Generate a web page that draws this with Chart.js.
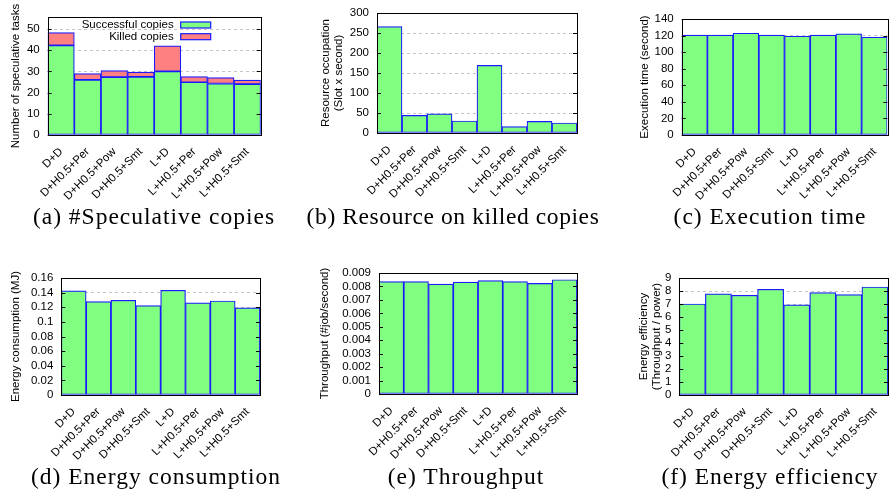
<!DOCTYPE html>
<html>
<head>
<meta charset="utf-8">
<script src="https://cdn.jsdelivr.net/npm/chart.js@4.4.1/dist/chart.umd.min.js"></script>
<style>
  html, body { margin: 0; padding: 0; background: #fff; }
  #page { position: relative; width: 891px; height: 495px; overflow: hidden; }
  canvas { position: absolute; }
  .caption {
    position: absolute; transform: translate(-50%, -50%);
    font-family: 'Liberation Serif', 'Times New Roman', serif;
    font-size: 23.5px; letter-spacing: 1px; white-space: nowrap; color: #000;
  }
</style>
</head>
<body>
<div id="page">
  <canvas id="cA"></canvas>
  <canvas id="cB"></canvas>
  <canvas id="cC"></canvas>
  <canvas id="cD"></canvas>
  <canvas id="cE"></canvas>
  <canvas id="cF"></canvas>
  <div class="caption" style="left:154px; top:216px">(a) #Speculative copies</div>
  <div class="caption" style="left:453px; top:216px; letter-spacing:0.6px">(b) Resource on killed copies</div>
  <div class="caption" style="left:770px; top:216px">(c) Execution time</div>
  <div class="caption" style="left:156px; top:476px">(d) Energy consumption</div>
  <div class="caption" style="left:466px; top:476px">(e) Throughput</div>
  <div class="caption" style="left:770px; top:476px">(f) Energy efficiency</div>
</div>
<script>
const labels = ['D+D', 'D+H0.5+Per', 'D+H0.5+Pow', 'D+H0.5+Smt', 'L+D', 'L+H0.5+Per', 'L+H0.5+Pow', 'L+H0.5+Smt'];

// (a) number of speculative copies
const successfulCopies = [42.3, 26, 27.3, 27.4, 30, 24.9, 24.3, 24];
const killedCopies = [6, 3, 3.1, 2.3, 12.1, 2.7, 2.8, 1.9];
const ticksA = [0, 10, 20, 30, 40, 50];

// (b) resource occupation of killed copies
const killedResource = [266, 44, 48, 30, 169, 16, 29, 25];
const ticksB = [0, 50, 100, 150, 200, 250, 300];

// (c) execution time
const execTime = [120.5, 120.5, 122.8, 120.5, 119.2, 120.5, 122, 118];
const ticksC = [0, 20, 40, 60, 80, 100, 120, 140];

// (d) energy consumption
const energy = [0.1423, 0.1277, 0.1295, 0.1223, 0.1432, 0.1259, 0.1286, 0.1191];
const ticksD = [0, 0.02, 0.04, 0.06, 0.08, 0.1, 0.12, 0.14, 0.16];

// (e) throughput
const throughput = [0.00836, 0.00836, 0.00818, 0.00833, 0.00843, 0.00836, 0.00823, 0.0085];
const ticksE = [0, 0.001, 0.002, 0.003, 0.004, 0.005, 0.006, 0.007, 0.008, 0.009];

// (f) energy efficiency
const efficiency = [7.0, 7.78, 7.67, 8.13, 6.93, 7.88, 7.72, 8.31];
const ticksF = [0, 1, 2, 3, 4, 5, 6, 7, 8, 9];

const GREEN = '#80ff80';
const RED = '#ff8080';
const BLUE = '#1a1aff';

Chart.defaults.font.family = "'Liberation Sans', Arial, sans-serif";
Chart.defaults.color = '#000';

// gnuplot style frame with little inward ticks
const framePlugin = {
    id: 'frame',
    afterDatasetsDraw(chart) {
        const { ctx, chartArea: a, scales } = chart;
        ctx.save();
        ctx.strokeStyle = '#000';
        ctx.lineWidth = 1;
        ctx.beginPath();
        scales.y.ticks.forEach(t => {
            const y = Math.round(scales.y.getPixelForValue(t.value)) + 0.5;
            ctx.moveTo(a.left, y); ctx.lineTo(a.left + 4, y);
            ctx.moveTo(a.right, y); ctx.lineTo(a.right - 4, y);
        });
        ctx.stroke();
        ctx.strokeRect(Math.round(a.left) + 0.5, Math.round(a.top) + 0.5,
            Math.round(a.right - a.left), Math.round(a.bottom - a.top));
        ctx.restore();
    }
};

// key in the top right, text first and sample after it
const keyPlugin = {
    id: 'key',
    afterDatasetsDraw(chart, args, opts) {
        if (!opts.show) return;
        const { ctx, chartArea: a } = chart;
        ctx.save();
        ctx.font = "11.5px 'Liberation Sans', Arial, sans-serif";
        ctx.textAlign = 'right';
        ctx.textBaseline = 'middle';
        chart.data.datasets.forEach((ds, i) => {
            const cy = a.top + 8 + i * 11.7;
            const sx = a.right - 80;
            ctx.fillStyle = '#000';
            ctx.fillText(ds.label, sx - 7, cy);
            ctx.fillStyle = ds.backgroundColor;
            ctx.fillRect(sx, cy - 3, 30, 6);
            ctx.strokeStyle = BLUE;
            ctx.lineWidth = 1.2;
            ctx.strokeRect(sx, cy - 3, 30, 6);
        });
        ctx.restore();
    }
};

function panel(p) {
    const padTop = 22, xH = 75;
    const canvasLeft = p.L - p.yW;
    const el = document.getElementById(p.id);
    const w = Math.min(891 - canvasLeft, Math.round(p.R - canvasLeft + 4));
    const h = Math.round(padTop + (p.B - p.T) + xH);
    el.style.left = canvasLeft + 'px';
    el.style.top = (p.T - padTop) + 'px';
    el.width = w; el.height = h;
    el.style.width = w + 'px'; el.style.height = h + 'px';
    const lh = 11.5 * 1.12;

    return new Chart(el, {
        type: 'bar',
        data: {
            labels: labels,
            datasets: p.datasets.map(d => ({
                label: d.label,
                data: d.data,
                backgroundColor: d.color,
                borderColor: BLUE,
                borderWidth: 1.2,
                borderSkipped: false,
                categoryPercentage: 1,
                barPercentage: 1
            }))
        },
        options: {
            responsive: false,
            animation: false,
            devicePixelRatio: 1,
            layout: { padding: { top: padTop, right: w - (p.R - canvasLeft), left: 0, bottom: 0 } },
            plugins: {
                legend: { display: false },
                tooltip: { enabled: false },
                key: { show: !!p.key }
            },
            scales: {
                x: {
                    stacked: true,
                    grid: { display: false },
                    border: { display: false },
                    ticks: { font: { size: 11.5 }, minRotation: 45, maxRotation: 45, autoSkip: false, padding: 2 },
                    afterFit: s => { s.height = xH; }
                },
                y: {
                    stacked: true,
                    min: 0,
                    max: p.max,
                    afterBuildTicks: s => { s.ticks = p.ticks.map(v => ({ value: v })); },
                    grid: { color: '#c4c4c4', drawTicks: false, lineWidth: 1 },
                    border: { display: false, dash: [3, 3] },
                    ticks: { font: { size: 11.5 }, padding: 8, autoSkip: false, callback: v => String(v) },
                    title: {
                        display: true,
                        text: p.title,
                        font: { size: 11.5, lineHeight: 1.12 },
                        padding: { top: p.titleCx - canvasLeft - lh / 2, bottom: 0 }
                    },
                    afterFit: s => { s.width = p.yW; }
                }
            }
        },
        plugins: [framePlugin, keyPlugin]
    });
}

panel({ id: 'cA', L: 47.7, T: 17.3, R: 260.7, B: 135, yW: 47.7, titleCx: 16, max: 55.7, ticks: ticksA,
    title: 'Number of speculative tasks', key: true,
    datasets: [
        { label: 'Successful copies', data: successfulCopies, color: GREEN },
        { label: 'Killed copies', data: killedCopies, color: RED }
    ] });

panel({ id: 'cB', L: 377, T: 13, R: 577, B: 133, yW: 77, titleCx: 326, max: 300, ticks: ticksB,
    title: ['Resource occupation', '(Slot x second)'],
    datasets: [{ label: 'Killed copies', data: killedResource, color: GREEN }] });

panel({ id: 'cC', L: 681.7, T: 19.3, R: 887.3, B: 135, yW: 51.7, titleCx: 645, max: 140, ticks: ticksC,
    title: 'Execution time (second)',
    datasets: [{ label: 'Execution time', data: execTime, color: GREEN }] });

panel({ id: 'cD', L: 61.3, T: 278.3, R: 260, B: 395, yW: 61.3, titleCx: 15.7, max: 0.16, ticks: ticksD,
    title: 'Energy consumption (MJ)',
    datasets: [{ label: 'Energy consumption', data: energy, color: GREEN }] });

panel({ id: 'cE', L: 379, T: 272.7, R: 577, B: 393.7, yW: 74, titleCx: 325, max: 0.009, ticks: ticksE,
    title: 'Throughput (#job/second)',
    datasets: [{ label: 'Throughput', data: throughput, color: GREEN }] });

panel({ id: 'cF', L: 679.3, T: 278.3, R: 888, B: 395, yW: 49.3, titleCx: 644, max: 9, ticks: ticksF,
    title: ['Energy efficiency', '(Throughput / power)'],
    datasets: [{ label: 'Energy efficiency', data: efficiency, color: GREEN }] });
</script>
</body>
</html>
